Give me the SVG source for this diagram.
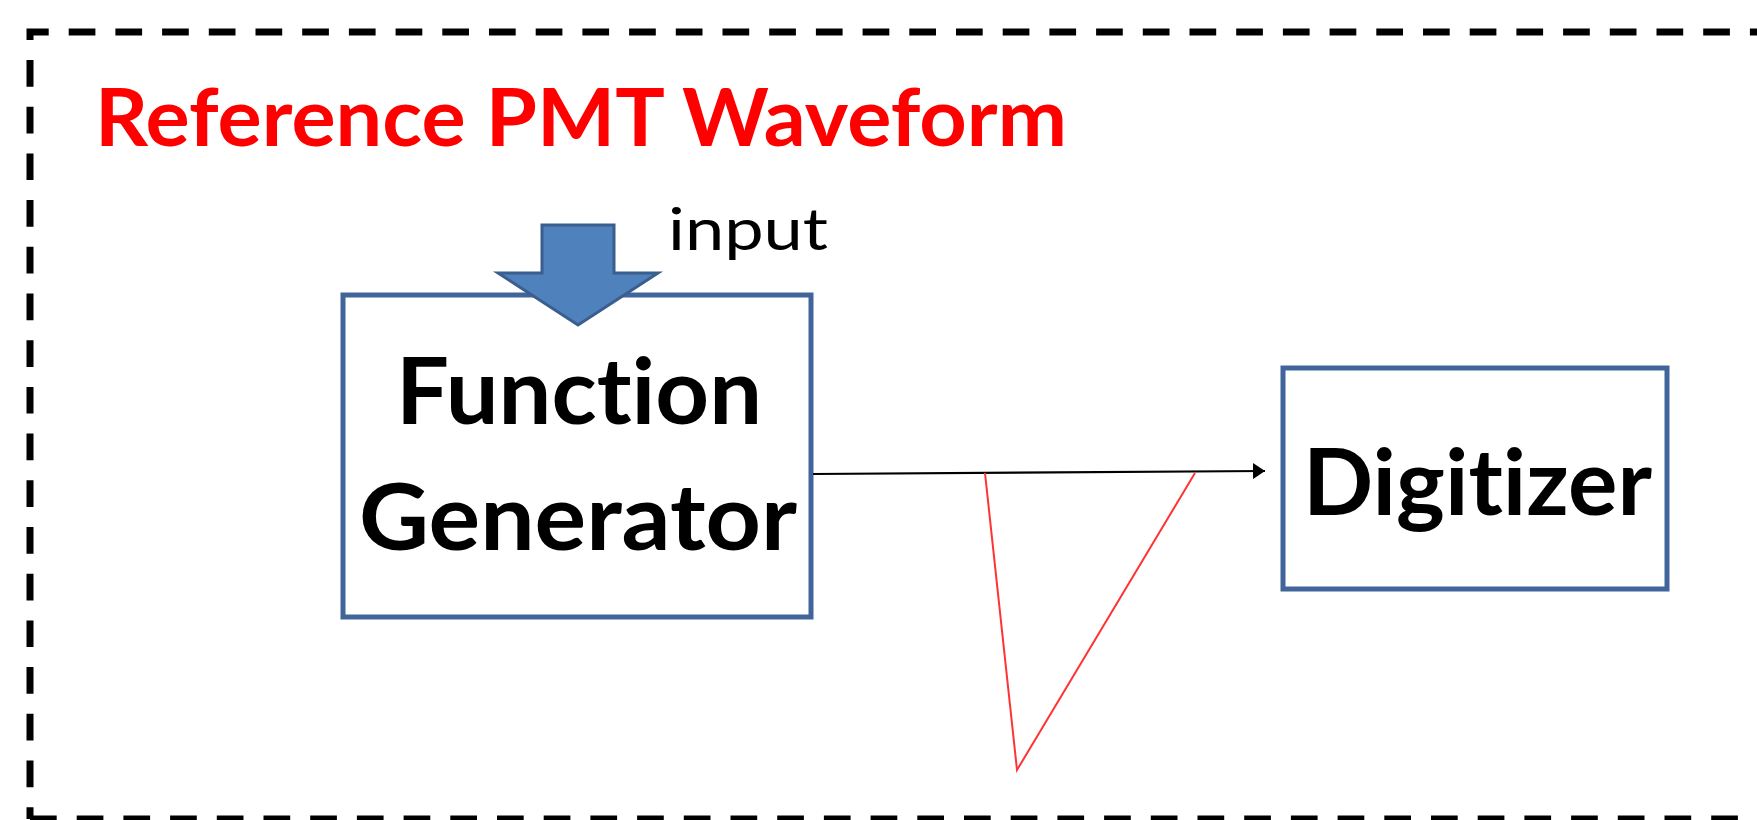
<svg xmlns="http://www.w3.org/2000/svg" width="1757" height="820" viewBox="0 0 1757 820">
<style>
text{font-variant-ligatures:none;font-family:Lato,"Open Sans","Liberation Sans",sans-serif}
.box{fill:#fff;stroke:#41659A;stroke-width:5}
.big{font-weight:bold;font-size:91px;fill:#000}
.dash{fill:none;stroke:#000;stroke-width:7;stroke-dasharray:26.7,20}
</style>
<defs>
<marker id="ah" viewBox="0 0 12 16" refX="12" refY="8" markerWidth="12" markerHeight="16" markerUnits="userSpaceOnUse" orient="auto">
<path d="M0,0 L12,8 L0,16 Z" fill="#000"/>
</marker>
</defs>
<rect width="1757" height="820" fill="#fff"/>
<g id="frame">
<path class="dash" d="M30,819 L30,32 L1800,32" stroke-dashoffset="14.9"/>
<path class="dash" d="M30,819 L1800,819"/>
</g>
<text id="title" x="95" y="146" font-weight="bold" font-size="81" fill="#FF0000" textLength="972" lengthAdjust="spacingAndGlyphs">Reference PMT Waveform</text>
<g id="function-generator">
<rect class="box" x="343" y="295" width="468" height="322"/>
<text class="big" x="396" y="424" textLength="366" lengthAdjust="spacingAndGlyphs">Function</text>
<text class="big" x="359" y="550" textLength="438" lengthAdjust="spacingAndGlyphs">Generator</text>
</g>
<g id="input-arrow">
<path d="M542,225 L614,225 L614,273 L658,273 L578,325 L498,273 L542,273 Z" fill="#4F81BD" stroke="#3A5F8F" stroke-width="3" stroke-linejoin="miter"/>
<text x="668" y="250" font-size="58" fill="#000" textLength="160" lengthAdjust="spacingAndGlyphs">input</text>
</g>
<g id="digitizer">
<rect class="box" x="1283" y="368" width="384" height="221"/>
<text class="big" x="1303" y="515" textLength="349" lengthAdjust="spacingAndGlyphs">Digitizer</text>
</g>
<g id="connectors">
<line x1="813" y1="474" x2="1265" y2="471" stroke="#000" stroke-width="2.2" marker-end="url(#ah)"/>
</g>
<g id="waveform">
<polyline points="985,473 1017,770 1195,473" fill="none" stroke="#FF3333" stroke-width="2"/>
</g>
</svg>
